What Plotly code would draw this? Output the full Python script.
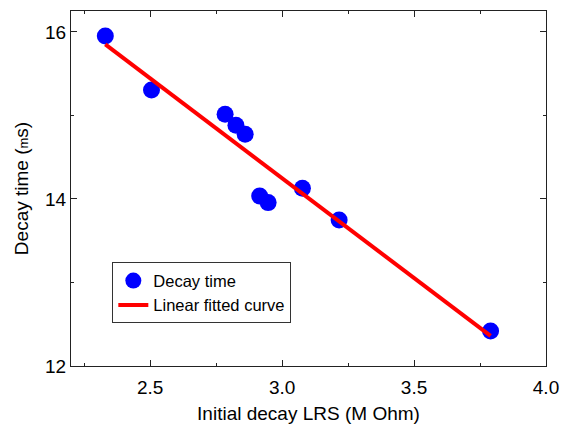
import plotly.graph_objects as go

# Data
lrs = [2.33, 2.505, 2.784, 2.825, 2.86, 2.915, 2.947, 3.077, 3.216, 3.79]
decay = [15.95, 15.305, 15.014, 14.883, 14.775, 14.036, 13.956, 14.128, 13.749, 12.419]

fit_x = [2.33, 3.79]
fit_y = [15.85, 12.36]

x_ticks = [2.5, 3.0, 3.5, 4.0]
x_tick_labels = ["2.5", "3.0", "3.5", "4.0"]
y_ticks = [12, 14, 16]
y_tick_labels = ["12", "14", "16"]

FONT = "Liberation Sans, Arial, sans-serif"

fig = go.Figure()
fig.add_trace(go.Scatter(
    x=lrs, y=decay, mode="markers", name="Decay time",
    marker=dict(color="#0000ff", size=17, line=dict(width=0)),
))
fig.add_trace(go.Scatter(
    x=fit_x, y=fit_y, mode="lines", name="Linear fitted curve",
    line=dict(color="#ff0000", width=4),
))

axis_common = dict(
    showline=True, linecolor="#222222", linewidth=1.3, mirror="ticks",
    ticks="inside", ticklen=6, tickwidth=1, tickcolor="#222222",
    showgrid=False, zeroline=False,
    tickfont=dict(family=FONT, size=19, color="black"),
)

fig.update_xaxes(
    range=[2.2, 4.0], tickvals=x_ticks, ticktext=x_tick_labels,
    minor=dict(ticks="inside", ticklen=3, dtick=0.25, tick0=2.25, tickcolor="#222222"),
    ticklabelstandoff=4,
    title=dict(text="Initial decay LRS (M Ohm)", font=dict(family=FONT, size=19, color="black"), standoff=9),
    **axis_common,
)
fig.update_yaxes(
    range=[12, 16.25], tickvals=y_ticks, ticktext=y_tick_labels,
    minor=dict(ticks="inside", ticklen=3, dtick=1, tick0=13, tickcolor="#222222"),
    title=dict(text="Decay time (<span style='font-size:13px'>m</span>s)", font=dict(family=FONT, size=19, color="black"), standoff=11),
    **axis_common,
)

fig.update_layout(
    width=569, height=430,
    margin=dict(l=71, r=14, t=10, b=64),
    paper_bgcolor="white", plot_bgcolor="white",
    showlegend=True,
    legend=dict(
        x=0.087, y=0.292, xanchor="left", yanchor="top",
        bordercolor="#333333", borderwidth=1, bgcolor="white",
        font=dict(family=FONT, size=16.5, color="black"),
        tracegroupgap=0, itemsizing="trace",
    ),
)

fig.write_html("out.html")
